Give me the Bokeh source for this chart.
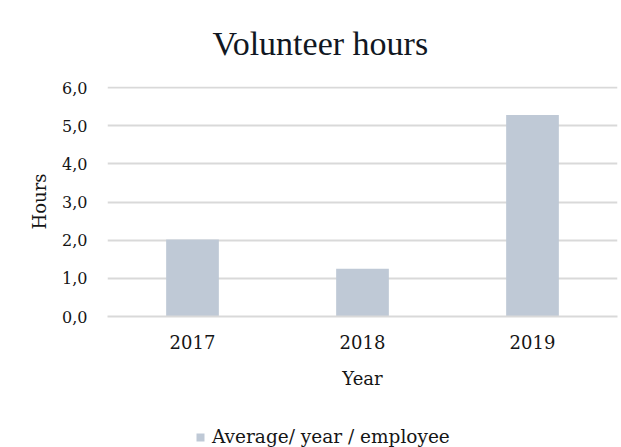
from bokeh.plotting import figure
from bokeh.layouts import column
from bokeh.models import (FactorRange, Range1d, FixedTicker, CustomJSTickFormatter,
                          Legend, LegendItem, Title, ColumnDataSource)
from bokeh.embed import file_html
from bokeh.resources import INLINE

years = ["2017", "2018", "2019"]
hours = [2.02, 1.25, 5.28]
y_ticks = [0, 1, 2, 3, 4, 5, 6]
series_name = "Average/ year / employee"

BAR = "#BFC9D6"
GRID = "#D9D9D9"
TXT = "#151515"
SERIF = "DejaVu Serif"

src = ColumnDataSource(dict(year=years, hours=hours))
xr = FactorRange(*years, range_padding=0)

p = figure(width=621, height=420, output_backend="svg", toolbar_location=None,
           x_range=xr, y_range=Range1d(0, 6.03),
           min_border_left=107, min_border_right=4, min_border_top=86, min_border_bottom=104)
p.outline_line_color = None
p.background_fill_color = "white"
p.border_fill_color = "white"

r = p.vbar(x="year", top="hours", width=0.31, source=src, fill_color=BAR, line_color=None)

p.title = Title(text="Volunteer hours", text_font="Liberation Serif", text_font_size="34px",
                text_font_style="normal", text_color="#111722", align="left", offset=105,
                vertical_align="top", standoff=46)

# y axis
p.yaxis.ticker = FixedTicker(ticks=y_ticks)
p.yaxis.formatter = CustomJSTickFormatter(code="return tick.toFixed(1).replace('.', ',');")
p.yaxis.axis_line_color = None
p.yaxis.major_tick_line_color = None
p.yaxis.minor_tick_line_color = None
p.yaxis.major_label_standoff = 14
p.yaxis.major_label_text_font = SERIF
p.yaxis.major_label_text_font_size = "16px"
p.yaxis.major_label_text_color = TXT
p.yaxis.axis_label = "Hours"
p.yaxis.axis_label_text_font = SERIF
p.yaxis.axis_label_text_font_size = "18px"
p.yaxis.axis_label_text_font_style = "normal"
p.yaxis.axis_label_text_color = TXT
p.yaxis.axis_label_standoff = 9

# x axis
p.xaxis.axis_line_color = GRID
p.xaxis.axis_line_width = 2
p.xaxis.major_tick_line_color = None
p.xaxis.minor_tick_line_color = None
p.xaxis.major_label_standoff = 12
p.xaxis.major_label_text_font = SERIF
p.xaxis.major_label_text_font_size = "18px"
p.xaxis.major_label_text_color = TXT
p.xaxis.axis_label = "Year"
p.xaxis.axis_label_text_font = SERIF
p.xaxis.axis_label_text_font_size = "18px"
p.xaxis.axis_label_text_font_style = "normal"
p.xaxis.axis_label_text_color = TXT
p.xaxis.axis_label_standoff = 16

p.xgrid.grid_line_color = None
p.ygrid.grid_line_color = GRID
p.ygrid.grid_line_width = 2

# legend strip (same series, bars kept out of view; only its legend shows)
p2 = figure(width=621, height=27, output_backend="svg", toolbar_location=None,
            x_range=xr, y_range=Range1d(100, 101), x_axis_type=None, y_axis_type=None,
            min_border=0)
p2.outline_line_color = None
p2.xgrid.grid_line_color = None
p2.ygrid.grid_line_color = None
r2 = p2.vbar(x="year", top="hours", width=0.31, source=src, fill_color=BAR, line_color=None)

legend = Legend(items=[LegendItem(label=series_name, renderers=[r2])],
                location=(88, 0), orientation="horizontal",
                label_text_font=SERIF, label_text_font_size="18.5px", label_text_color=TXT,
                glyph_width=10, glyph_height=10, padding=0, margin=0,
                border_line_color=None, background_fill_alpha=0, label_standoff=7)
p2.add_layout(legend, "center")

layout = column(p, p2, spacing=0)
open("out.html", "w").write(file_html(layout, INLINE))
